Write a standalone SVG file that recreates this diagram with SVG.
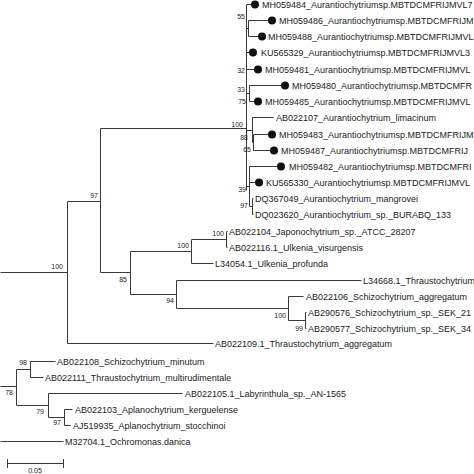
<svg xmlns="http://www.w3.org/2000/svg" width="474" height="474" viewBox="0 0 474 474">
<style>
.br{fill:none;stroke:#3a3a3a;stroke-width:1}
.lf{font-family:"Liberation Sans",Arial,sans-serif;font-size:9px;fill:#222}
.bs{font-family:"Liberation Sans",Arial,sans-serif;font-size:7px;fill:#222;text-anchor:end}
.dot{fill:#111}
</style>
<rect width="474" height="474" fill="#fff"/>
<g id="connectors" class="br" transform="translate(0.5,0.5)">
<path d="M0 272H67M67 201V343M67 201H100M67 343H213M100 128V272M100 128H246M100 272H130"/>
<path d="M130 251V294M130 251H191M191 239V263M191 239H226M226 231V247M226 231H227M226 247H227M191 263H213"/>
<path d="M130 294H176M176 280V308M176 280H361M176 308H288M288 296V320M288 296H303M288 320H305M305 312V328M305 312H306M305 328H306"/>
<path d="M0 386H16M16 369V405M16 369H30M30 361V377M30 361H55M30 377H43M16 405H48M48 393V417M48 393H182M48 417H64M64 409V425M64 409H72M64 425H70M0 441H63"/>
<path d="M246 4V190M246 4H251M246 28H248M248 20V36M248 20H268M248 36H258M246 52H249M246 69H254M246 93H249M249 85V101M249 85H281M249 101H254"/>
<path d="M246 130H252M252 117V142M252 117H273M252 142H253M253 134V150M253 134H268M253 150H270"/>
<path d="M246 186H249M249 166V206M249 166H277M249 182H255M249 206H252M252 198V214M252 198H253M252 214H253"/>
</g>
<g id="scalebar">
<path class="br" d="M7 463.5H63M7.5 459V468M63.5 459V468"/>
<text class="bs" x="35" y="473" style="text-anchor:middle">0.05</text>
</g>
<g id="n_root"><text class="bs" x="63" y="269">100</text></g>
<g id="n97a"><text class="bs" x="98" y="198">97</text></g>
<g id="n85"><text class="bs" x="127" y="282">85</text></g>
<g id="n100b"><text class="bs" x="189" y="248">100</text></g>
<g id="n100c"><text class="bs" x="224" y="236">100</text></g>
<g id="n94"><text class="bs" x="174" y="303">94</text></g>
<g id="n100d"><text class="bs" x="286" y="318">100</text></g>
<g id="n99"><text class="bs" x="303" y="331">99</text></g>
<g id="n100crown"><text class="bs" x="243" y="127">100</text></g>
<g id="n55"><text class="bs" x="245" y="19">55</text></g>
<g id="n32"><text class="bs" x="245" y="73">32</text></g>
<g id="n33"><text class="bs" x="245" y="92">33</text></g>
<g id="n75"><text class="bs" x="246" y="104">75</text></g>
<g id="n88"><text class="bs" x="248" y="140">88</text></g>
<g id="n65"><text class="bs" x="251" y="152">65</text></g>
<g id="n39"><text class="bs" x="246" y="192">39</text></g>
<g id="n97b"><text class="bs" x="248" y="208">97</text></g>
<g id="n98"><text class="bs" x="27" y="365">98</text></g>
<g id="n78"><text class="bs" x="13" y="395">78</text></g>
<g id="n79"><text class="bs" x="44" y="414">79</text></g>
<g id="n97c"><text class="bs" x="61" y="425">97</text></g>
<g id="MH059484"><circle class="dot" cx="255" cy="4.5" r="4"/><text class="lf" x="262" y="8">MH059484_Aurantiochytriumsp.MBTDCMFRIJMVL7</text></g>
<g id="MH059486"><circle class="dot" cx="272" cy="20.5" r="4"/><text class="lf" x="279" y="24">MH059486_Aurantiochytriumsp.MBTDCMFRIJM</text></g>
<g id="MH059488"><circle class="dot" cx="262" cy="36.5" r="4"/><text class="lf" x="268" y="40">MH059488_Aurantiochytriumsp.MBTDCMFRIJMVL</text></g>
<g id="KU565329"><circle class="dot" cx="253" cy="52.5" r="4"/><text class="lf" x="261" y="56">KU565329_Aurantiochytriumsp.MBTDCMFRIJMVL3</text></g>
<g id="MH059481"><circle class="dot" cx="258" cy="69.5" r="4"/><text class="lf" x="265" y="73">MH059481_Aurantiochytriumsp.MBTDCMFRIJMVL</text></g>
<g id="MH059480"><circle class="dot" cx="285" cy="85.5" r="4"/><text class="lf" x="292" y="89">MH059480_Aurantiochytriumsp.MBTDCMFR</text></g>
<g id="MH059485"><circle class="dot" cx="258" cy="101.5" r="4"/><text class="lf" x="265" y="105">MH059485_Aurantiochytriumsp.MBTDCMFRIJMVL</text></g>
<g id="AB022107"><text class="lf" x="276" y="121">AB022107_Aurantiochytrium_limacinum</text></g>
<g id="MH059483"><circle class="dot" cx="272" cy="134.5" r="4"/><text class="lf" x="279" y="138">MH059483_Aurantiochytriumsp.MBTDCMFRIJM</text></g>
<g id="MH059487"><circle class="dot" cx="274" cy="150.5" r="4"/><text class="lf" x="281" y="154">MH059487_Aurantiochytriumsp.MBTDCMFRIJ</text></g>
<g id="MH059482"><circle class="dot" cx="281" cy="166.5" r="4"/><text class="lf" x="289" y="170">MH059482_Aurantiochytriumsp.MBTDCMFRI</text></g>
<g id="KU565330"><circle class="dot" cx="259" cy="182.5" r="4"/><text class="lf" x="266" y="186">KU565330_Aurantiochytriumsp.MBTDCMFRIJMVL</text></g>
<g id="DQ367049"><text class="lf" x="255" y="202">DQ367049_Aurantiochytrium_mangrovei</text></g>
<g id="DQ023620"><text class="lf" x="255" y="218">DQ023620_Aurantiochytrium_sp._BURABQ_133</text></g>
<g id="AB022104"><text class="lf" x="229" y="235">AB022104_Japonochytrium_sp._ATCC_28207</text></g>
<g id="AB022116"><text class="lf" x="229" y="251">AB022116.1_Ulkenia_visurgensis</text></g>
<g id="L34054"><text class="lf" x="215" y="267">L34054.1_Ulkenia_profunda</text></g>
<g id="L34668"><text class="lf" x="363" y="284">L34668.1_Thraustochytrium</text></g>
<g id="AB022106"><text class="lf" x="306" y="300">AB022106_Schizochytrium_aggregatum</text></g>
<g id="AB290576"><text class="lf" x="308" y="316">AB290576_Schizochytrium_sp._SEK_21</text></g>
<g id="AB290577"><text class="lf" x="308" y="332">AB290577_Schizochytrium_sp._SEK_34</text></g>
<g id="AB022109"><text class="lf" x="215" y="347">AB022109.1_Thraustochytrium_aggregatum</text></g>
<g id="AB022108"><text class="lf" x="57" y="365">AB022108_Schizochytrium_minutum</text></g>
<g id="AB022111"><text class="lf" x="45" y="381">AB022111_Thraustochytrium_multirudimentale</text></g>
<g id="AB022105"><text class="lf" x="185" y="397">AB022105.1_Labyrinthula_sp._AN-1565</text></g>
<g id="AB022103"><text class="lf" x="75" y="413">AB022103_Aplanochytrium_kerguelense</text></g>
<g id="AJ519935"><text class="lf" x="73" y="429">AJ519935_Aplanochytrium_stocchinoi</text></g>
<g id="M32704"><text class="lf" x="65" y="445">M32704.1_Ochromonas.danica</text></g>
</svg>
